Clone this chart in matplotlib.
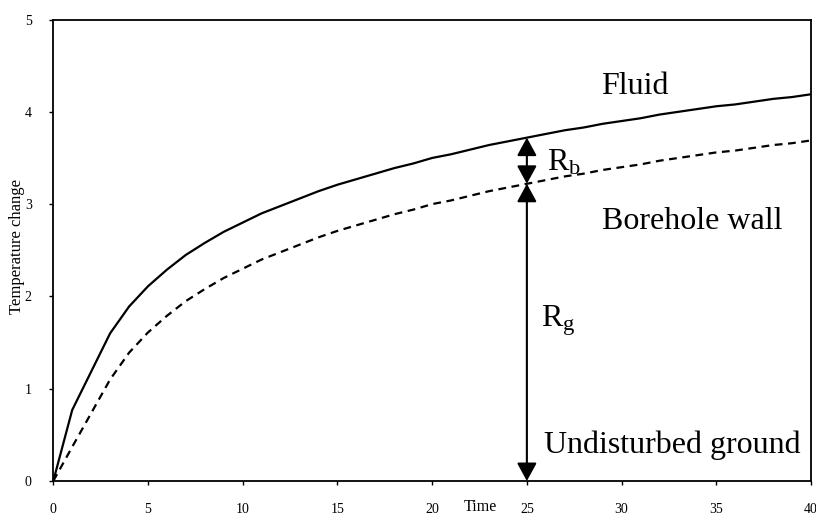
import matplotlib
matplotlib.use("Agg")
import matplotlib.pyplot as plt

plt.rcParams['font.family'] = ['Liberation Serif', 'DejaVu Serif']
plt.rcParams['mathtext.fontset'] = 'custom'
plt.rcParams['mathtext.rm'] = 'Liberation Serif'
plt.rcParams['mathtext.it'] = 'Liberation Serif:italic'

# Data
time = [0, 1, 3, 4, 5, 6, 7, 8, 9, 10, 11, 12, 13, 14, 15, 16, 17, 18, 19, 20,
        21, 22, 23, 24, 25, 26, 27, 28, 29, 30, 31, 32, 33, 34, 35, 36, 37, 38, 39, 40]
fluid = [0.00, 0.77, 1.60, 1.89, 2.11, 2.29, 2.45, 2.58, 2.70, 2.80, 2.90, 2.98, 3.06,
         3.14, 3.21, 3.27, 3.33, 3.39, 3.44, 3.50, 3.54, 3.59, 3.64, 3.68, 3.72, 3.76,
         3.80, 3.83, 3.87, 3.90, 3.93, 3.97, 4.00, 4.03, 4.06, 4.08, 4.11, 4.14, 4.16, 4.19]
borehole = [0.00, 0.37, 1.10, 1.39, 1.61, 1.79, 1.95, 2.08, 2.20, 2.30, 2.40, 2.48, 2.56,
            2.64, 2.71, 2.77, 2.83, 2.89, 2.94, 3.00, 3.04, 3.09, 3.14, 3.18, 3.22, 3.26,
            3.30, 3.33, 3.37, 3.40, 3.43, 3.47, 3.50, 3.53, 3.56, 3.58, 3.61, 3.64, 3.66, 3.69]
x_ticks = [0, 5, 10, 15, 20, 25, 30, 35, 40]
y_ticks = [0, 1, 2, 3, 4, 5]
arrow_t = 25
ground_level = 0.0
wall_level = 3.22
fluid_level = 3.72

fig = plt.figure(figsize=(8.16, 5.16), dpi=100)
ax = fig.add_axes([0.0653, 0.0678, 0.9286, 0.8944])

ax.plot(time, fluid, color='black', lw=1.6, solid_joinstyle='round')
ax.plot(time, borehole, color='black', lw=1.6, linestyle=(0, (3.5, 2.5)))

ax.set_xlim(0, 40)
ax.set_ylim(0, 5)
ax.set_xticks(x_ticks)
ax.set_yticks(y_ticks)
ax.tick_params(direction='out', length=3, width=1, labelsize=10)
ax.tick_params(axis='y', pad=12.5)
ax.tick_params(axis='x', pad=13)
for s in ax.spines.values():
    s.set_linewidth(1.3)

aprops = dict(arrowstyle='<|-|>,head_length=0.55,head_width=0.3', mutation_scale=20,
              color='black', lw=1.5, shrinkA=0, shrinkB=0)
ax.annotate('', xy=(arrow_t, fluid_level), xytext=(arrow_t, wall_level), arrowprops=aprops)
ax.annotate('', xy=(arrow_t, wall_level), xytext=(arrow_t, ground_level), arrowprops=aprops,
            annotation_clip=False)

ax.text(28.9, 4.27, 'Fluid', fontsize=23, ha='left', va='center')
ax.text(28.95, 2.81, 'Borehole wall', fontsize=23, ha='left', va='center')
ax.text(26.05, 3.45, r'$\mathrm{R_b}$', fontsize=23, ha='left', va='center')
ax.text(25.75, 1.74, r'$\mathrm{R_g}$', fontsize=23, ha='left', va='center')
ax.text(25.9, 0.39, 'Undisturbed ground', fontsize=23, ha='left', va='center')

fig.text(480 / 816, 1 - 507 / 516, 'Time', fontsize=11.5, ha='center', va='center')
fig.text(17 / 816, 1 - 247 / 516, 'Temperature change', fontsize=12, rotation=90,
         ha='center', va='center')

fig.savefig('out.png', dpi=100)
